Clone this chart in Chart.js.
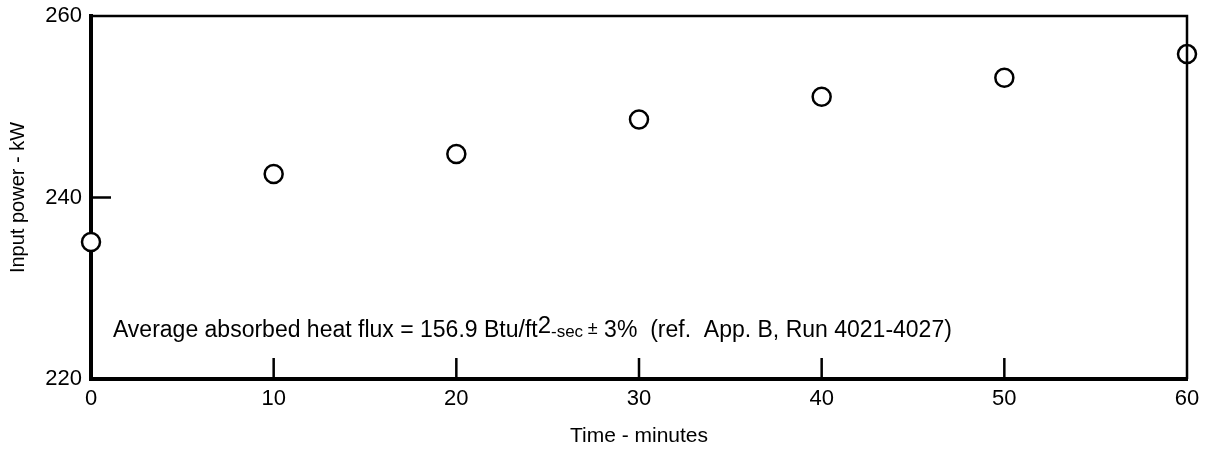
<!DOCTYPE html>
<html>
<head>
<meta charset="utf-8">
<script src="https://cdn.jsdelivr.net/npm/chart.js@4.4.1/dist/chart.umd.min.js"></script>
<style>
  html, body { margin: 0; padding: 0; background: #fff; }
  #wrap { width: 1206px; height: 451px; }
</style>
</head>
<body>
<div id="wrap"><canvas id="chart"></canvas></div>
<script>
// Measured input power over the run
var timeMinutes = [0, 10, 20, 30, 40, 50, 60];
var inputPowerKW = [235.1, 242.6, 244.8, 248.6, 251.1, 253.2, 255.8];

// Axis setup
var xTicks = [0, 10, 20, 30, 40, 50, 60];
var yTicks = [220, 240, 260];
var innerXTicks = [10, 20, 30, 40, 50];
var innerYTicks = [240];

var noteParts = [
    { text: 'Average absorbed heat flux = 156.9 Btu/ft', size: 23, rise: 0 },
    { text: '2', size: 24, rise: 4 },
    { text: '-sec ', size: 17, rise: 0 },
    { text: '\u00b1', size: 18, rise: 3 },
    { text: ' 3%  (ref.  App. B, Run 4021-4027)', size: 23, rise: 0 }
];

var fontFamily = '"Liberation Sans", Arial, Helvetica, sans-serif';

// Draws the frame's thin top/right lines, the inward ticks and the note
var framePlugin = {
    id: 'frame',
    afterDraw: function(chart) {
        var ctx = chart.ctx;
        var area = chart.chartArea;
        var xs = chart.scales.x;
        var ys = chart.scales.y;
        ctx.save();
        ctx.strokeStyle = '#000';
        ctx.lineWidth = 2.5;
        ctx.beginPath();
        ctx.moveTo(area.left, area.top);
        ctx.lineTo(area.right, area.top);
        ctx.lineTo(area.right, area.bottom);
        ctx.stroke();

        ctx.beginPath();
        innerXTicks.forEach(function(v) {
            var px = xs.getPixelForValue(v);
            ctx.moveTo(px, area.bottom);
            ctx.lineTo(px, area.bottom - 21);
        });
        innerYTicks.forEach(function(v) {
            var py = ys.getPixelForValue(v);
            ctx.moveTo(area.left, py);
            ctx.lineTo(area.left + 20, py);
        });
        ctx.stroke();

        // note text, placed at a point in data space
        var x = xs.getPixelForValue(1.2);
        var base = ys.getPixelForValue(224.6);
        ctx.fillStyle = '#000';
        ctx.textBaseline = 'alphabetic';
        ctx.textAlign = 'left';
        noteParts.forEach(function(p) {
            ctx.font = p.size + 'px ' + fontFamily;
            ctx.fillText(p.text, x, base - p.rise);
            x += ctx.measureText(p.text).width;
        });
        ctx.restore();
    }
};

function noOverhang(scale) {
    scale.paddingTop = 0;
    scale.paddingBottom = 0;
    scale.paddingLeft = 0;
    scale.paddingRight = 0;
}

var ctx = document.getElementById('chart').getContext('2d');
var myChart = new Chart(ctx, {
    type: 'scatter',
    data: {
        datasets: [{
            label: 'Input power',
            data: timeMinutes.map(function(t, i) { return { x: t, y: inputPowerKW[i] }; }),
            pointRadius: 9,
            pointHoverRadius: 9,
            pointBorderWidth: 2.5,
            pointBorderColor: '#000',
            pointBackgroundColor: '#fff',
            clip: false
        }]
    },
    plugins: [framePlugin],
    options: {
        responsive: true,
        maintainAspectRatio: false,
        animation: false,
        layout: { padding: { top: 16, right: 19, left: 0, bottom: 0 } },
        plugins: {
            legend: { display: false },
            tooltip: { enabled: false }
        },
        scales: {
            x: {
                type: 'linear',
                min: 0,
                max: 60,
                afterFit: function(scale) { scale.height = 72; noOverhang(scale); },
                afterBuildTicks: function(scale) {
                    scale.ticks = xTicks.map(function(v) { return { value: v }; });
                },
                grid: { display: false, drawTicks: false },
                border: { display: true, color: '#000', width: 4 },
                ticks: {
                    color: '#000',
                    padding: 7,
                    maxRotation: 0,
                    font: { family: fontFamily, size: 22 }
                },
                title: {
                    display: true,
                    text: 'Time - minutes',
                    color: '#000',
                    padding: { top: 0, bottom: 2 },
                    font: { family: fontFamily, size: 21 }
                }
            },
            y: {
                type: 'linear',
                min: 220,
                max: 260,
                afterFit: function(scale) { scale.width = 91; noOverhang(scale); },
                afterBuildTicks: function(scale) {
                    scale.ticks = yTicks.map(function(v) { return { value: v }; });
                },
                grid: { display: false, drawTicks: false },
                border: { display: true, color: '#000', width: 4 },
                ticks: {
                    color: '#000',
                    padding: 9,
                    font: { family: fontFamily, size: 22 }
                },
                title: {
                    display: true,
                    text: 'Input power - kW',
                    color: '#000',
                    padding: { top: 6, bottom: 0 },
                    font: { family: fontFamily, size: 20 }
                }
            }
        }
    }
});
</script>
</body>
</html>
